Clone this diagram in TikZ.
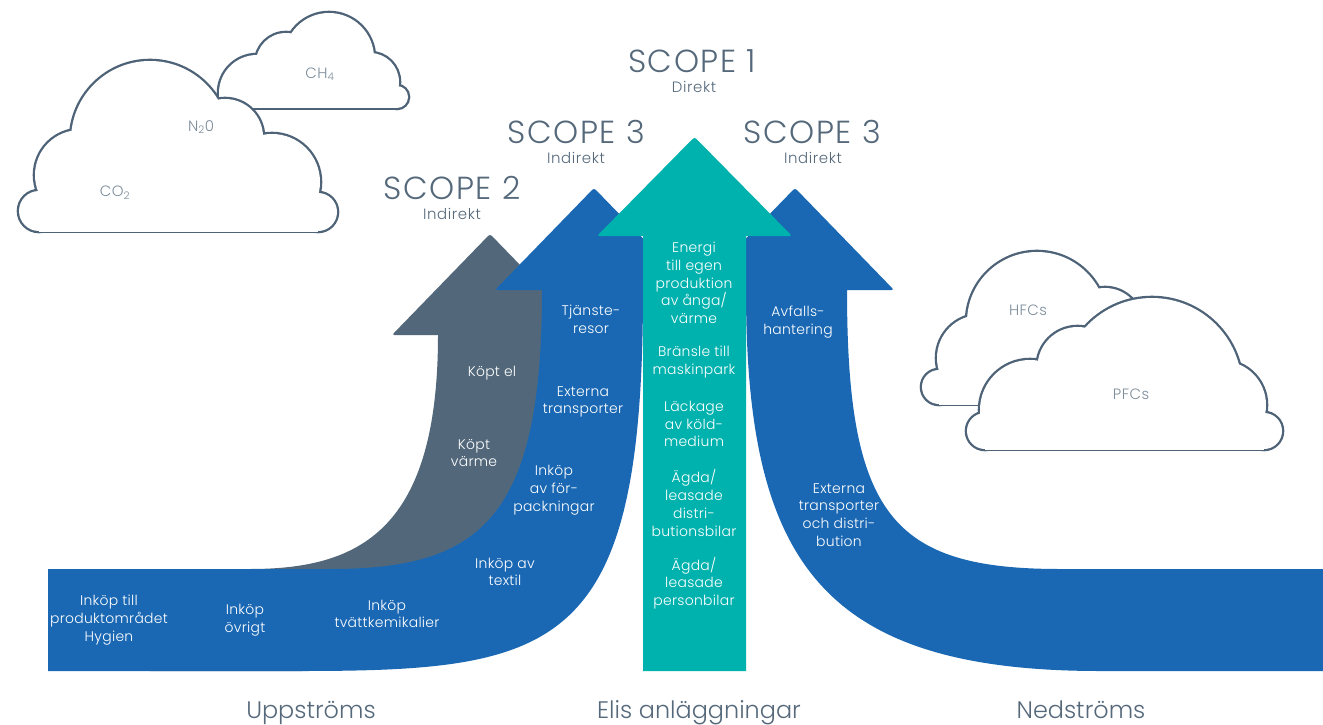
\documentclass[tikz,border=0pt]{standalone}
\usepackage{fontspec}
\setmainfont{Poppins Light}
\definecolor{blu}{HTML}{1A68B3}
\definecolor{gry}{HTML}{52687A}
\definecolor{tealc}{HTML}{00B2AE}
\definecolor{txtc}{HTML}{55697B}
\definecolor{cloudc}{HTML}{4E6377}
\definecolor{cloudtxt}{HTML}{7D8D9B}
\tikzset{
  lbl/.style={text=white, align=center, inner sep=0pt, font=\fontsize{14}{17.8}\selectfont\addfontfeature{LetterSpace=2}},
  scopetitle/.style={text=txtc, inner sep=0pt, font=\fontsize{32}{32}\selectfont\addfontfeature{LetterSpace=5}},
  scopesub/.style={text=txtc, inner sep=0pt, font=\fontsize{15}{15}\selectfont\addfontfeature{LetterSpace=4}},
  bottomlbl/.style={text=txtc, inner sep=0pt, anchor=base, font=\fontsize{24}{24}\selectfont},
  cloudlbl/.style={text=cloudtxt, inner sep=0pt, font=\fontsize{15}{15}\selectfont\addfontfeature{LetterSpace=3}},
  cloudline/.style={draw=cloudc, line width=4.6bp},
}
% #1 bump circles, #2 bottom lobes, #3 rectangle x1/y1/x2, #4 bottom y
\newcommand\drawcloud[4]{%
  \begin{scope}
    \clip (0,0) rectangle (1323,#4);
    \foreach \cx/\cy/\cr in {#1} {\draw[cloudline] (\cx,\cy) circle[radius=\cr];}
  \end{scope}
  \begin{scope}
    \clip (0,0) rectangle (1323,#4+2.3);
    \foreach \cx/\cy/\cr in {#2} {\draw[cloudline] (\cx,\cy) circle[radius=\cr];}
    \foreach \ra/\rb/\rc in {#3} {\draw[cloudline] (\ra,\rb) rectangle (\rc,#4);}
  \end{scope}
  \begin{scope}
    \clip (0,0) rectangle (1323,#4);
    \foreach \cx/\cy/\cr in {#1,#2} {\fill[white] (\cx,\cy) circle[radius=\cr];}
    \foreach \ra/\rb/\rc in {#3} {\fill[white] (\ra,\rb) rectangle (\rc,#4+3);}
  \end{scope}
}
\begin{document}
\begin{tikzpicture}[x=1bp,y=-1bp]
\useasboundingbox (0,0) rectangle (1323,724);
\fill[white] (0,0) rectangle (1323,724);

% ---------- clouds ----------
\drawcloud{257/93/38, 286/63/30, 329/58/45, 370/82/29}{397/97/11}{225/75/397}{108}
\drawcloud{80/175/45, 150/140/79, 225/137/38, 272/182/48, 220/180/20}{39/211/20, 318/212/19}{39/180/318}{231}
\drawcloud{980/358/43, 1037/322/70, 1105/325/37}{939/387/17}{939/360/1105}{404}
\drawcloud{1030/410/50, 1077.5/367/40, 1152/388/90, 1222/405/44}{985/431/18, 1264/431/18}{985/400/1264}{449}

\node[cloudlbl] (ch4) at (320,74) {CH\textsubscript{4}};
\node[cloudlbl] (n2o) at (201,127) {N\textsubscript{2}0};
\node[cloudlbl] (co2) at (115,193) {CO\textsubscript{2}};
\node[cloudlbl] (hfc) at (1028,310) {HFCs};
\node[cloudlbl] (pfc) at (1131,394) {PFCs};

% ---------- arrows ----------
\fill[gry] (150,569) -- (250,569) .. controls (360,569) and (438,530) .. (438,335)
  [rounded corners=2.5] -- (392,335) -- (490,234) -- (588,335) [sharp corners] -- (545,335)
  .. controls (545,600) and (450,671) .. (300,671) -- (150,671) -- cycle;
\fill[blu] (48,569) -- (330,569) .. controls (480,569) and (542,520) .. (542,290)
  [rounded corners=2.5] -- (495,290) -- (594,188) -- (693,290) [sharp corners] -- (643,290)
  .. controls (643,650) and (560,671) .. (300,671) -- (48,671) -- cycle;
\fill[blu] (1323,569) -- (1060,569) .. controls (892,569) and (847,515) .. (847,290)
  [rounded corners=2.5] -- (894,290) -- (795,188) -- (696,290) [sharp corners] -- (746,290)
  .. controls (746,560) and (820,671) .. (1100,671) -- (1323,671) -- cycle;
\fill[tealc] (643,671) -- (643,236) [rounded corners=2.5] -- (597,236) -- (694.5,137) -- (792,236) [sharp corners] -- (746,236) -- (746,671) -- cycle;

% ---------- scope titles ----------
\node[scopetitle] (sc1) at (692,61) {SCOPE 1};
\node[scopesub] (sc1s) at (694,87) {Direkt};
\node[scopetitle] (sc3l) at (576,132) {SCOPE 3};
\node[scopesub] (sc3ls) at (576,158) {Indirekt};
\node[scopetitle] (sc3r) at (812,132) {SCOPE 3};
\node[scopesub] (sc3rs) at (813,158) {Indirekt};
\node[scopetitle] (sc2) at (452,188) {SCOPE 2};
\node[scopesub] (sc2s) at (452,214) {Indirekt};

% ---------- labels in arrows ----------
\node[lbl] (kel) at (492,373) {Köpt el};
\node[lbl] (kva) at (474,453) {Köpt\\värme};
\node[lbl] (tja) at (591,319) {Tjänste-\\resor};
\node[lbl] (ext) at (583,402) {Externa\\transporter};
\node[lbl] (ffp) at (554,490) {Inköp\\av för-\\packningar};
\node[lbl] (tex) at (505,572) {Inköp av\\textil};
\node[lbl] (hyg) at (109,620) {Inköp till\\produktområdet\\Hygien};
\node[lbl] (ovr) at (245,620) {Inköp\\övrigt};
\node[lbl] (tva) at (387,614) {Inköp\\tvättkemikalier};

\node[lbl] (ene) at (694,283) {Energi\\till egen\\produktion\\av ånga/\\värme};
\node[lbl] (bra) at (694,362) {Bränsle till\\maskinpark};
\node[lbl] (lac) at (694,424) {Läckage\\av köld-\\medium};
\node[lbl] (dis) at (694,503) {Ägda/\\leasade\\distri-\\butionsbilar};
\node[lbl] (per) at (694,583) {Ägda/\\leasade\\personbilar};

\node[lbl] (avf) at (798,322) {Avfalls-\\hantering};
\node[lbl] (etd) at (839,515) {Externa\\transporter\\och distri-\\bution};

% ---------- bottom labels ----------
\node[bottomlbl] (upp) at (311,718) {Uppströms};
\node[bottomlbl] (eli) at (699,718) {Elis anläggningar};
\node[bottomlbl] (ned) at (1081,718) {Nedströms};
\end{tikzpicture}
\end{document}
